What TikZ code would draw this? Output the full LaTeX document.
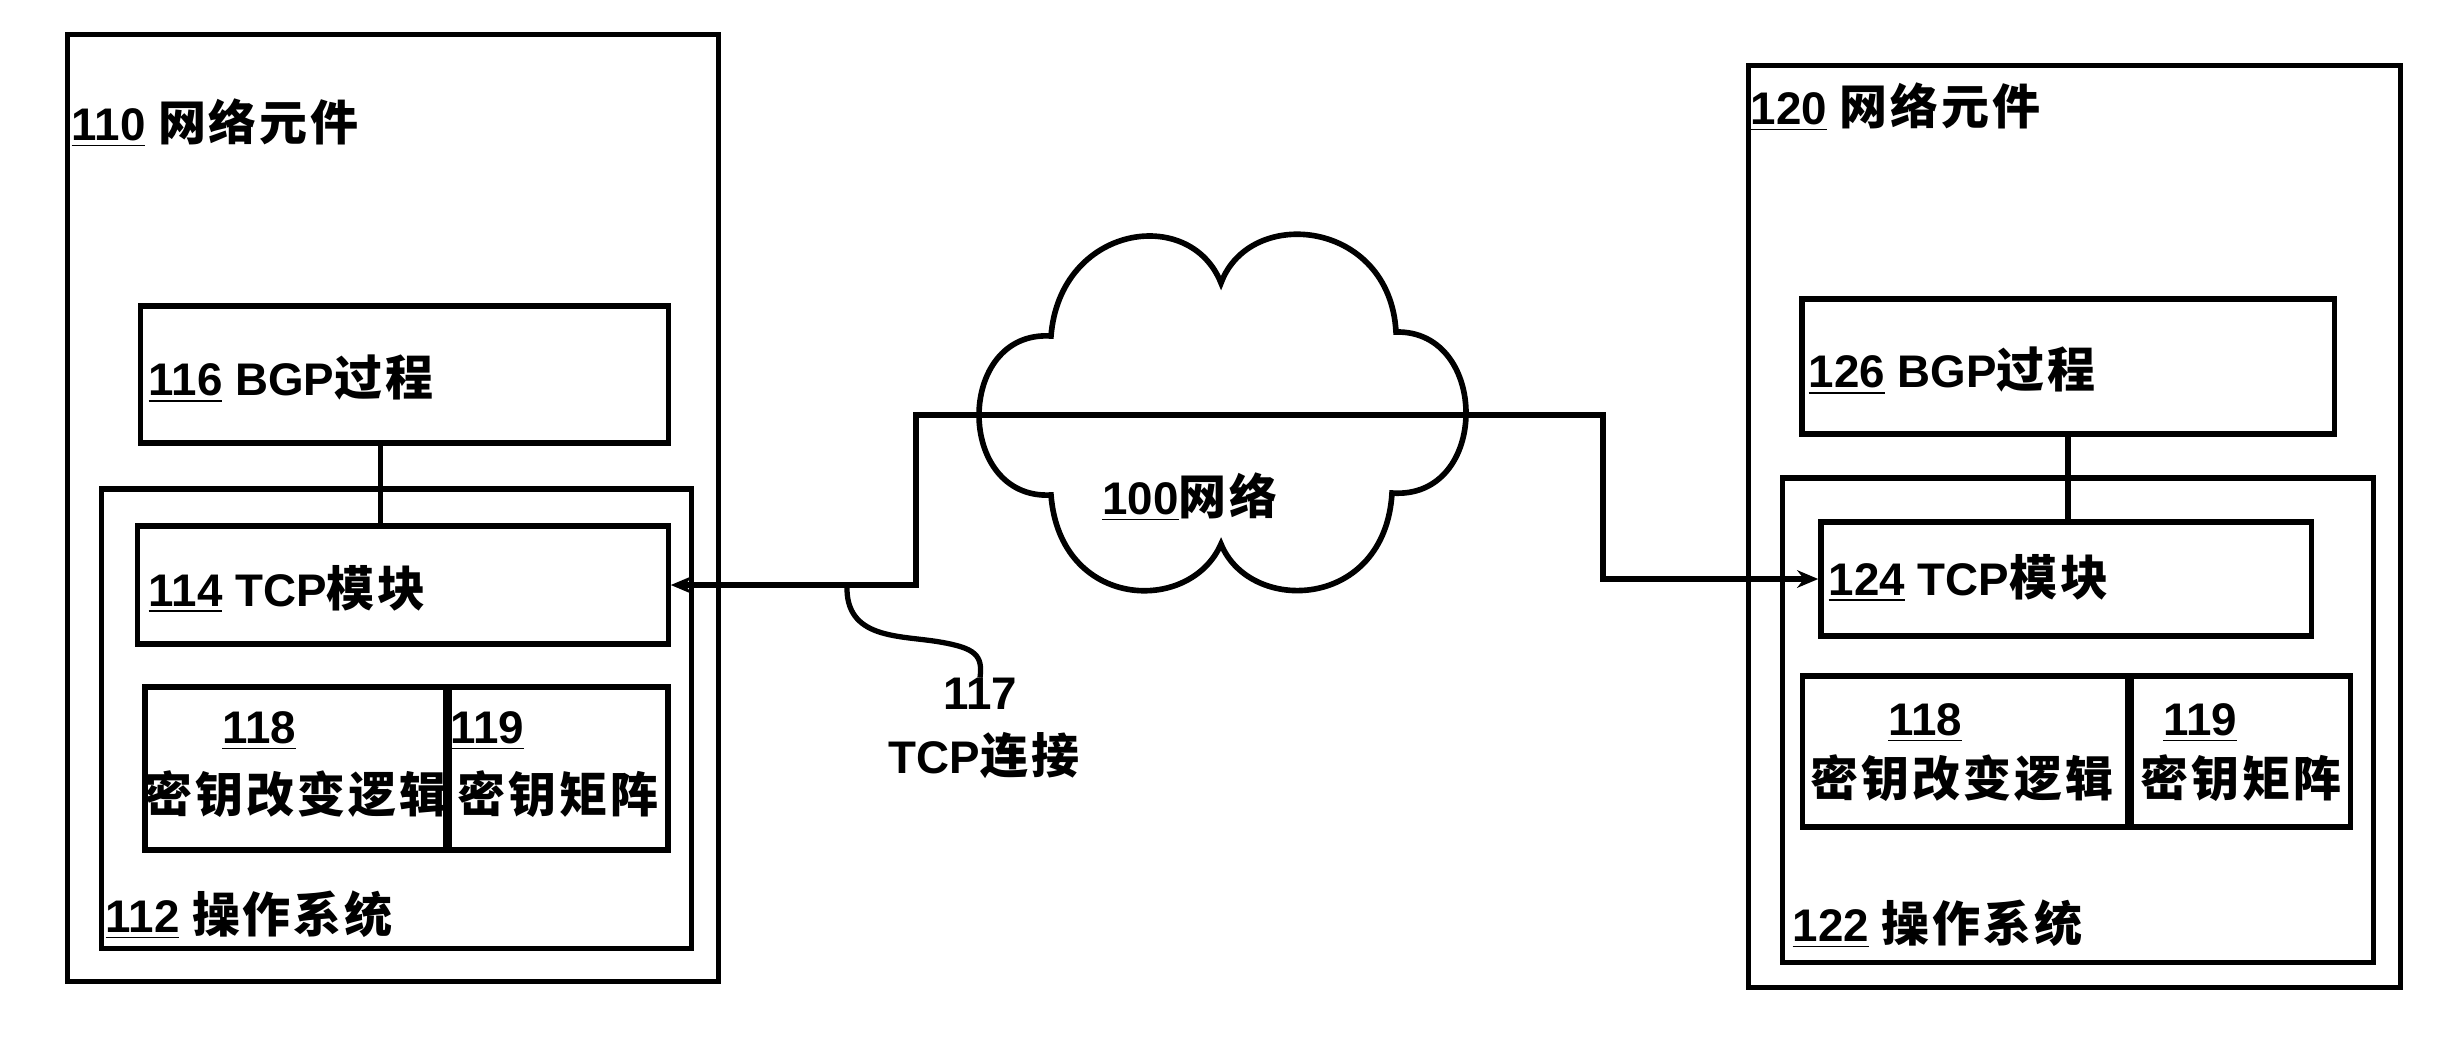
\documentclass[tikz,border=0pt]{standalone}
\usepackage{fontspec}
\setmainfont{Liberation Sans}
\newfontfamily\zh{Noto Sans CJK SC}[Scale=1.05, LetterSpace=6]
\usetikzlibrary{arrows.meta}
\begin{document}
\begin{tikzpicture}[x=0.01cm, y=-0.01cm,
        font=\fontsize{13}{15}\selectfont\bfseries,
        box/.style={rectangle, draw, line width=1.5pt, inner sep=0pt},
        lbl/.style={inner sep=0pt, anchor=west},
        txt/.style={inner sep=0pt},
        link/.style={line width=1.5pt},
        arrow/.style={<->, >={Stealth[length=6pt, width=5pt]}, line width=1.5pt}
    ]
    \useasboundingbox (0,0) rectangle (2464,1060);
    % network element 110
    \node[box, minimum width=6.5cm, minimum height=9.46cm] (ne110) at (393,508) {};
    \node[lbl] (t110) at (71,123) {\underline{110} {\zh 网络元件}};
    \node[box, minimum width=5.27cm, minimum height=1.37cm] (bgp116) at (404.5,374.5) {};
    \node[lbl] (t116) at (148,379) {\underline{116} BGP{\zh 过程}};
    \node[box, minimum width=5.89cm, minimum height=4.59cm] (os112) at (396.5,718.5) {};
    \node[lbl] (t112) at (105,915) {\underline{112} {\zh 操作系统}};
    \node[box, minimum width=5.3cm, minimum height=1.18cm] (tcp114) at (403,585) {};
    \node[lbl] (t114) at (148,589) {\underline{114} TCP{\zh 模块}};
    \node[box, minimum width=3.01cm, minimum height=1.63cm] (key118) at (295.5,768.5) {};
    \node[txt] (n118) at (259,731) {\underline{118}};
    \node[txt] (k118) at (296,794) {\zh 密钥改变逻辑};
    \node[box, minimum width=2.19cm, minimum height=1.63cm] (mat119) at (558.5,768.5) {};
    \node[txt] (n119) at (487,731) {\underline{119}};
    \node[txt] (m119) at (558,794) {\zh 密钥矩阵};
    \draw[link] ([xshift=-0.24cm]bgp116.south) -- ([xshift=-0.24cm]bgp116.south |- tcp114.north);

    % network element 120
    \node[box, minimum width=6.51cm, minimum height=9.21cm] (ne120) at (2074.5,526.5) {};
    \node[lbl] (t120) at (1750,107) {\underline{120} {\zh 网络元件}};
    \node[box, minimum width=5.32cm, minimum height=1.35cm] (bgp126) at (2068,366.5) {};
    \node[lbl] (t126) at (1808,371) {\underline{126} BGP{\zh 过程}};
    \node[box, minimum width=5.91cm, minimum height=4.84cm] (os122) at (2078,720) {};
    \node[lbl] (t122) at (1792,924) {\underline{122} {\zh 操作系统}};
    \node[box, minimum width=4.9cm, minimum height=1.14cm] (tcp124) at (2066,579) {};
    \node[lbl] (t124) at (1828,578) {\underline{124} TCP{\zh 模块}};
    \node[box, minimum width=3.25cm, minimum height=1.51cm] (key118r) at (1965,751.5) {};
    \node[txt] (n118r) at (1925,723) {\underline{118}};
    \node[txt] (k118r) at (1962,778) {\zh 密钥改变逻辑};
    \node[box, minimum width=2.19cm, minimum height=1.51cm] (mat119r) at (2241,751.5) {};
    \node[txt] (n119r) at (2200,723) {\underline{119}};
    \node[txt] (m119r) at (2241,778) {\zh 密钥矩阵};
    \draw[link] (bgp126.south) -- (bgp126.south |- tcp124.north);

    % network 100
    \draw[line width=1.6pt] (1051,336) .. controls (1060,225) and (1190,205) .. (1221,283)
        .. controls (1250,205) and (1390,220) .. (1396,332)
        .. controls (1490,330) and (1490,500) .. (1392,493)
        .. controls (1385,610) and (1250,615) .. (1221,544)
        .. controls (1190,615) and (1060,610) .. (1051,495)
        .. controls (955,500) and (955,330) .. cycle;
    \node[txt] (net100) at (1190,497) {\underline{100}{\zh 网络}};

    % TCP connection 117
    \coordinate (bendL) at (916,415);
    \coordinate (bendR) at (1603,415);
    \coordinate (tap) at (847,585);
    \draw[arrow] (tcp114.east) -| (bendL) -- (bendR) |- (tcp124.west);
    \node[txt] (n117) at (980,694) {117};
    \node[txt] (c117) at (984,756) {TCP{\zh 连接}};
    \draw[link] (tap) .. controls (845,640) and (900,635) .. (940,642)
        .. controls (975,648) and (983,655) .. (n117.north);
\end{tikzpicture}
\end{document}
